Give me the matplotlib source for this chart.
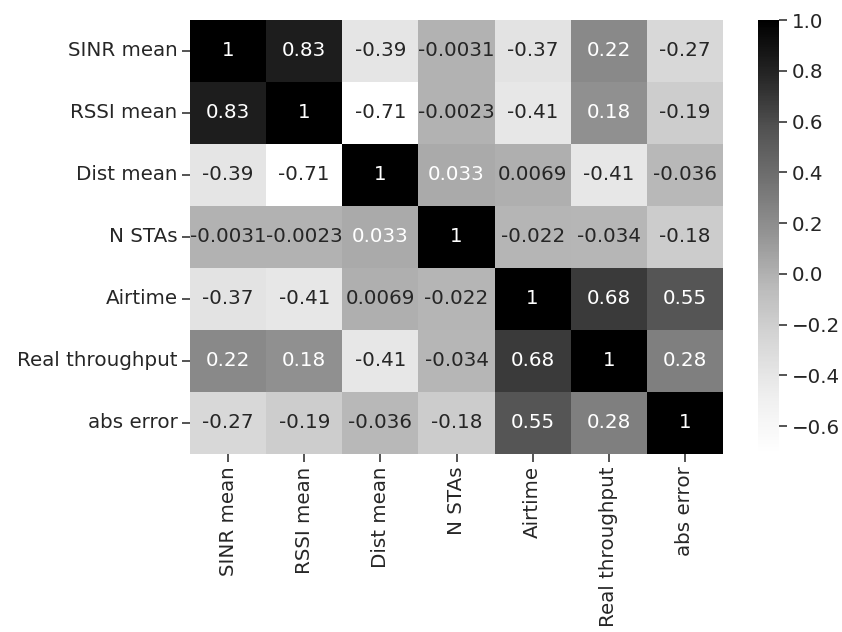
import matplotlib
matplotlib.use("Agg")
import matplotlib.pyplot as plt
import numpy as np
import pandas as pd
import seaborn as sns

labels = ["SINR mean", "RSSI mean", "Dist mean", "N STAs", "Airtime", "Real throughput", "abs error"]
corr = [
    [1, 0.83, -0.39, -0.0031, -0.37, 0.22, -0.27],
    [0.83, 1, -0.71, -0.0023, -0.41, 0.18, -0.19],
    [-0.39, -0.71, 1, 0.033, 0.0069, -0.41, -0.036],
    [-0.0031, -0.0023, 0.033, 1, -0.022, -0.034, -0.18],
    [-0.37, -0.41, 0.0069, -0.022, 1, 0.68, 0.55],
    [0.22, 0.18, -0.41, -0.034, 0.68, 1, 0.28],
    [-0.27, -0.19, -0.036, -0.18, 0.55, 0.28, 1],
]

df = pd.DataFrame(np.array(corr), index=labels, columns=labels)

plt.rcParams["font.size"] = 14.3
plt.rcParams["text.color"] = "#262626"
plt.rcParams["xtick.color"] = "#262626"
plt.rcParams["ytick.color"] = "#262626"
plt.rcParams["xtick.major.size"] = 5.5
plt.rcParams["ytick.major.size"] = 5.5
plt.rcParams["xtick.major.width"] = 1.1
plt.rcParams["ytick.major.width"] = 1.1

fig = plt.figure(figsize=(8.42, 6.32), dpi=100)
ax = fig.add_axes([190 / 842, 1 - 454 / 632, 533 / 842, 434 / 632])
cax = fig.add_axes([758 / 842, 1 - 454 / 632, 21 / 842, 434 / 632])

sns.heatmap(df, annot=True, cmap="Greys", ax=ax, cbar_ax=cax)
ax.tick_params(axis="x", labelrotation=90)
ax.tick_params(axis="y", labelrotation=0)

plt.savefig("out.png")
